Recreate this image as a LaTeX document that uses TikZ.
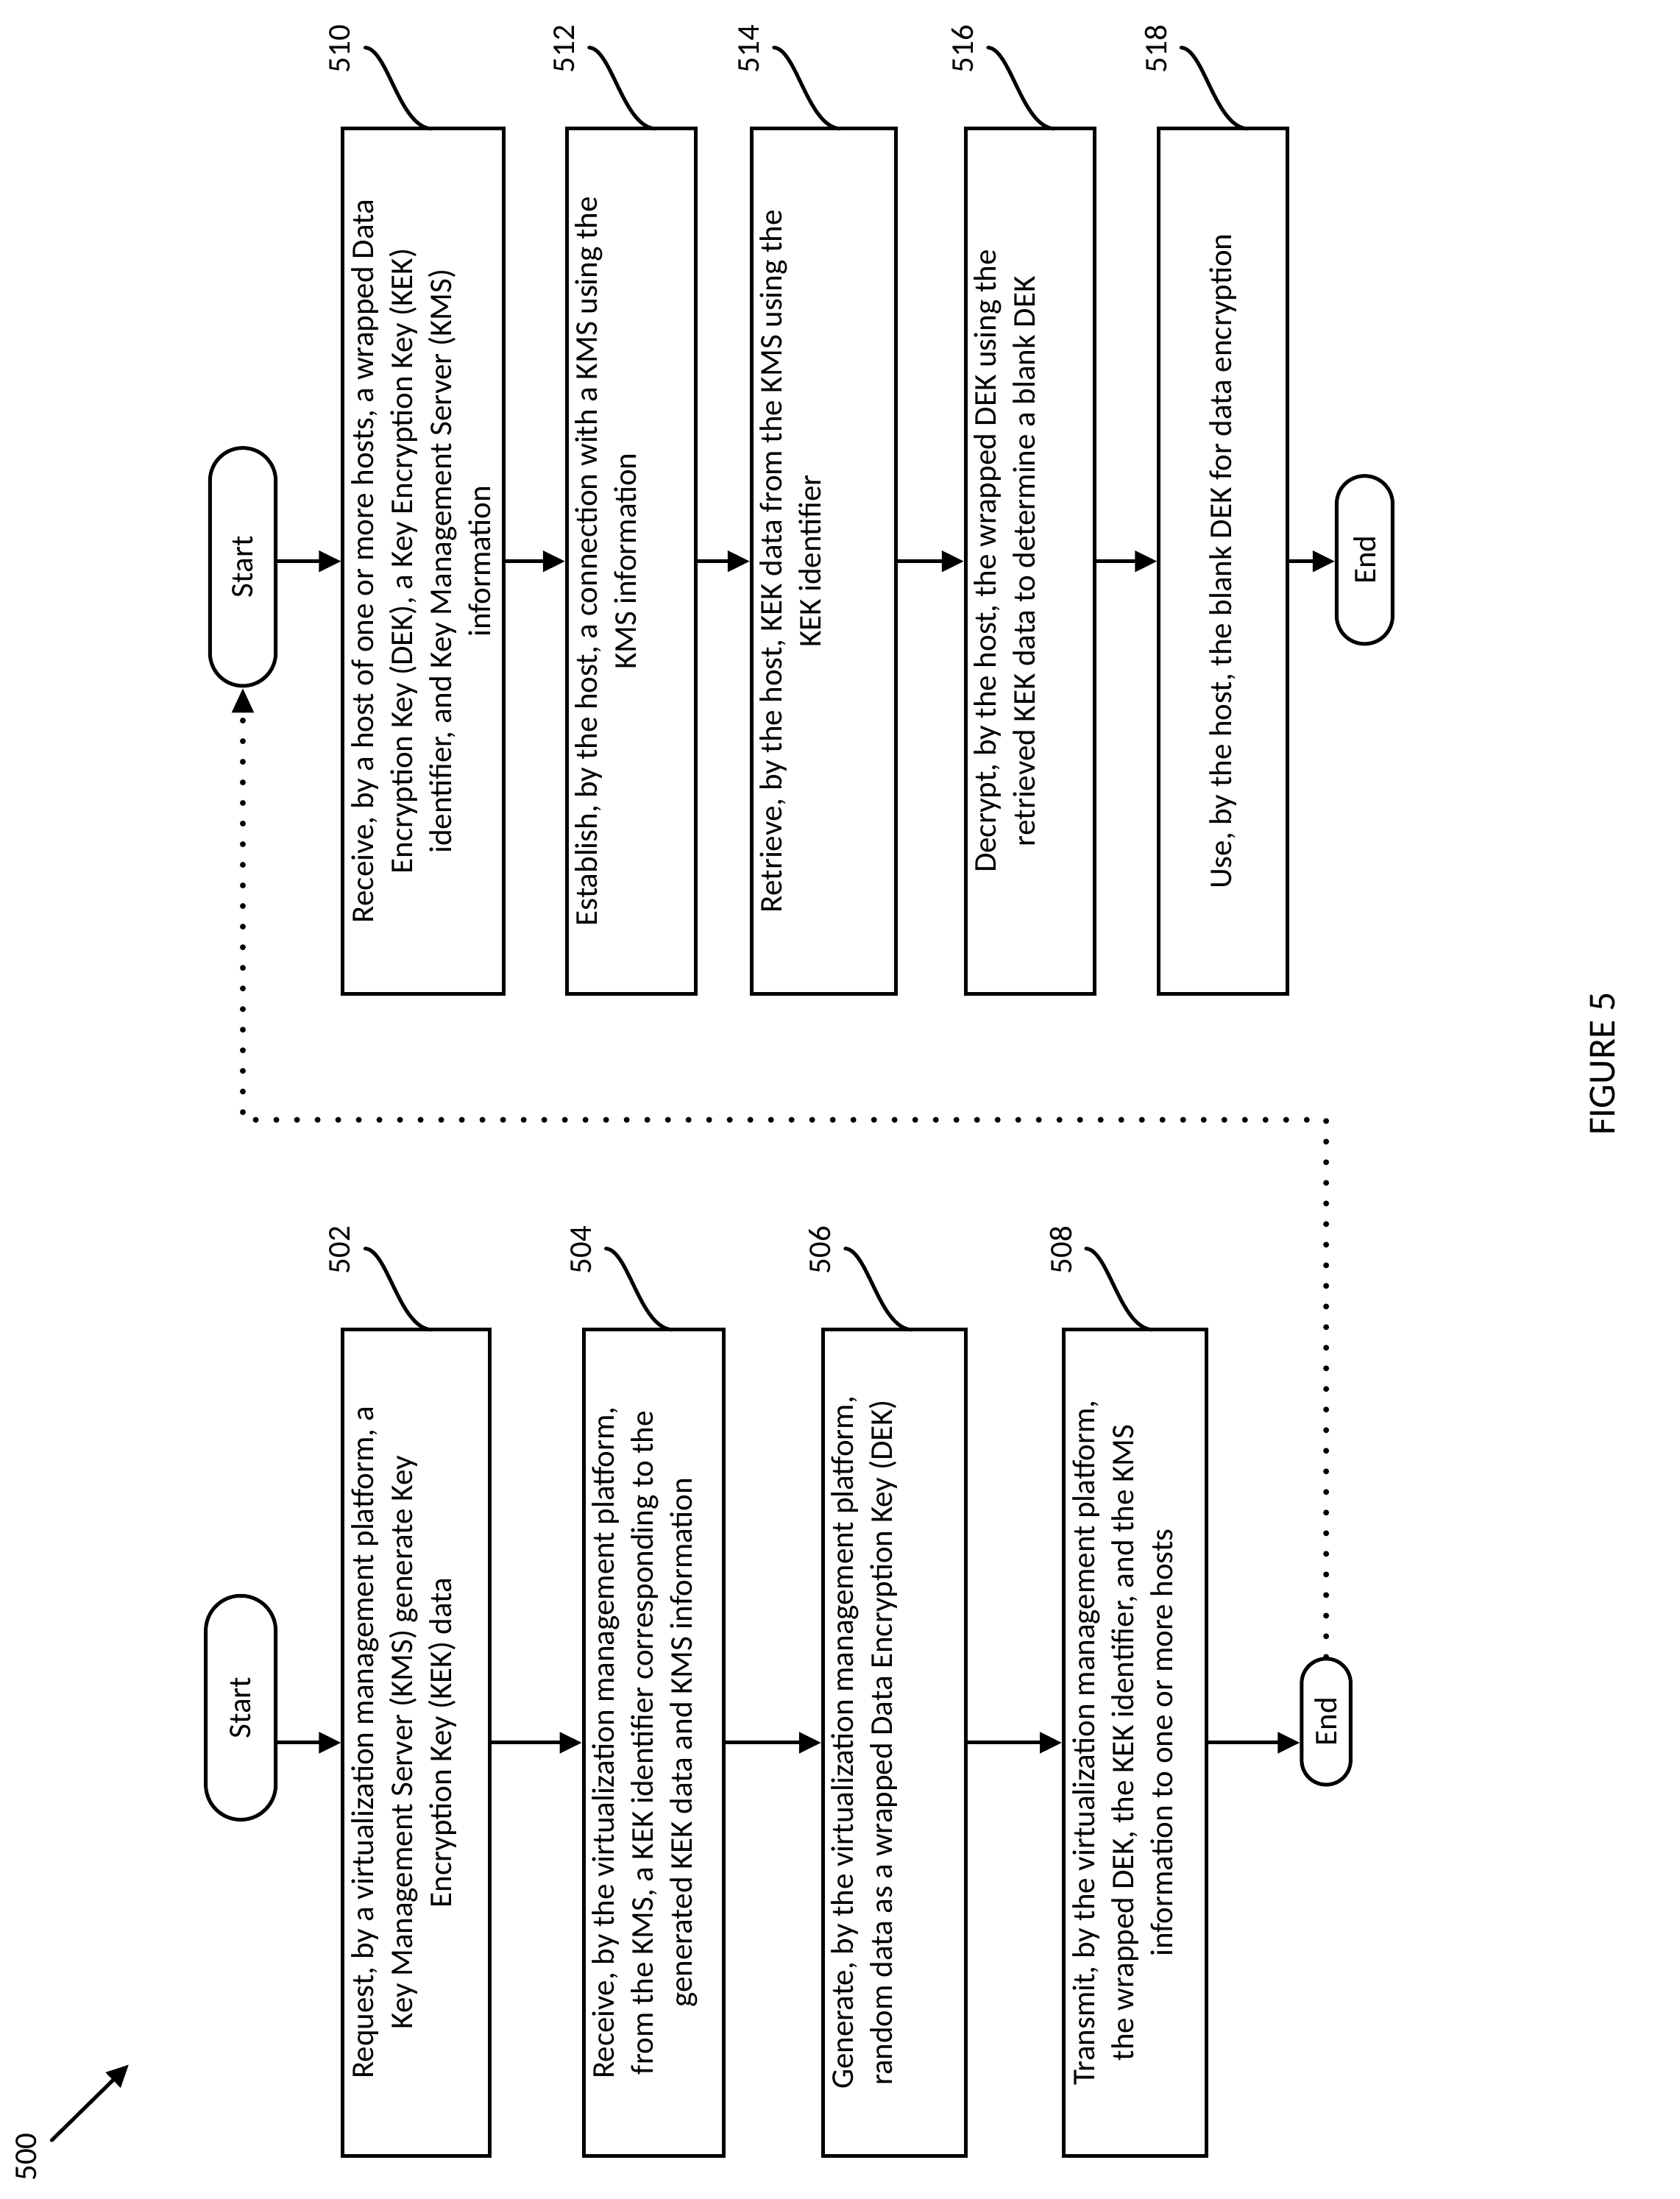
\documentclass[tikz,border=0pt]{standalone}
\usepackage{fontspec}
\setmainfont{Carlito}
\usetikzlibrary{arrows.meta,shapes.misc}
\begin{document}
\begin{tikzpicture}[x=1.9017pt,y=-1.9017pt,
  box/.style={draw,line width=5pt,rotate=90,minimum width={#1*1.9017pt},inner sep=0pt},
  txt/.style={rotate=90,align=center,font=\fontsize{43}{53}\selectfont,anchor=north,inner sep=14pt},
  term/.style={draw,line width=5pt,rounded rectangle,rotate=90,inner sep=0pt,font=\fontsize{43}{53}\selectfont},
  arr/.style={line width=5pt,-{Triangle[length=30pt,width=28pt]}},
  dots/.style={line width=8pt,line cap=round,dash pattern=on 0pt off 28pt,-{Triangle[length=34pt,width=28pt]}},
  lab/.style={rotate=90,font=\fontsize{43}{53}\selectfont,inner sep=0pt},
  sq/.style={line width=5pt,line cap=round}]
\useasboundingbox (0,0) rectangle (1200,1571);
% left column
\node[term,minimum width={160*1.9017pt},minimum height={50*1.9017pt}] (s1) at (172,1220) {Start};
\node[box=590,minimum height={105*1.9017pt}] (b502) at (297.5,1245) {};
\node[txt] at (b502.north) {Request, by a virtualization management platform, a\\Key Management Server (KMS) generate Key\\Encryption Key (KEK) data};
\node[box=590,minimum height={100*1.9017pt}] (b504) at (467,1245) {};
\node[txt] at (b504.north) {Receive, by the virtualization management platform,\\from the KMS, a KEK identifier corresponding to the\\generated KEK data and KMS information};
\node[box=590,minimum height={102*1.9017pt}] (b506) at (639,1245) {};
\node[txt] at (b506.north) {Generate, by the virtualization management platform,\\random data as a wrapped Data Encryption Key (DEK)};
\node[box=590,minimum height={102*1.9017pt}] (b508) at (811,1245) {};
\node[txt] at (b508.north) {Transmit, by the virtualization management platform,\\the wrapped DEK, the KEK identifier, and the KMS\\information to one or more hosts};
\node[term,minimum width={90*1.9017pt},minimum height={35*1.9017pt}] (e1) at (947.5,1230) {End};
\draw[arr] (b502.north -| s1.south) -- (b502.north);
\draw[arr] (b502.south) -- (b504.north);
\draw[arr] (b504.south) -- (b506.north);
\draw[arr] (b506.south) -- (b508.north);
\draw[arr] (b508.south) -- (b508.south -| e1.north);
% right column
\node[term,minimum width={170*1.9017pt},minimum height={47*1.9017pt}] (s2) at (173.5,405) {Start};
\node[box=618,minimum height={115*1.9017pt}] (b510) at (302.5,401) {};
\node[txt] at (b510.north) {Receive, by a host of one or more hosts, a wrapped Data\\Encryption Key (DEK), a Key Encryption Key (KEK)\\identifier, and Key Management Server (KMS)\\information};
\node[box=618,minimum height={92*1.9017pt}] (b512) at (451,401) {};
\node[txt] at (b512.north) {Establish, by the host, a connection with a KMS using the\\KMS information};
\node[box=618,minimum height={103*1.9017pt}] (b514) at (588.5,401) {};
\node[txt] at (b514.north) {Retrieve, by the host, KEK data from the KMS using the\\KEK identifier};
\node[box=618,minimum height={92*1.9017pt}] (b516) at (736,401) {};
\node[txt] at (b516.north) {Decrypt, by the host, the wrapped DEK using the\\retrieved KEK data to determine a blank DEK};
\node[box=618,minimum height={92*1.9017pt}] (b518) at (874,401) {};
\node[txt,anchor=center] at (b518.center) {Use, by the host, the blank DEK for data encryption};
\node[term,minimum width={120*1.9017pt},minimum height={40*1.9017pt}] (e2) at (975,400) {End};
\draw[arr] (b510.north -| s2.south) -- (b510.north);
\draw[arr] (b510.south) -- (b512.north);
\draw[arr] (b512.south) -- (b514.north);
\draw[arr] (b514.south) -- (b516.north);
\draw[arr] (b516.south) -- (b518.north);
\draw[arr] (b518.south) -- (b518.south -| e2.north);
% dotted loop
\coordinate (d) at (0,800);
\draw[dots] (e1.east) -- (e1.east |- d) -- (s2.west |- d) -- (s2.west);
% labels
\foreach \n/\b/\x/\y in {502/b502/245/950,504/b504/417/950,506/b506/588/950,508/b508/760/950,510/b510/245/92,512/b512/405/92,514/b514/537/92,516/b516/690/92,518/b518/828/92}{
  \node[lab] (l\n) at (\x-2,\y-57) {\n};
  \draw[sq] (\x+16,\y-58) .. controls (\x+32,\y-57) and (\x+40,\y-2) .. (\x+63,\y);
}
\node[lab] (l500) at (19,1541) {500};
\coordinate (a500) at (92,1475);
\draw[arr,line cap=round] (37,1529) -- (a500);
\node[rotate=90,font=\fontsize{52}{60}\selectfont] (fig) at (1145,760) {FIGURE 5};
\end{tikzpicture}
\end{document}
